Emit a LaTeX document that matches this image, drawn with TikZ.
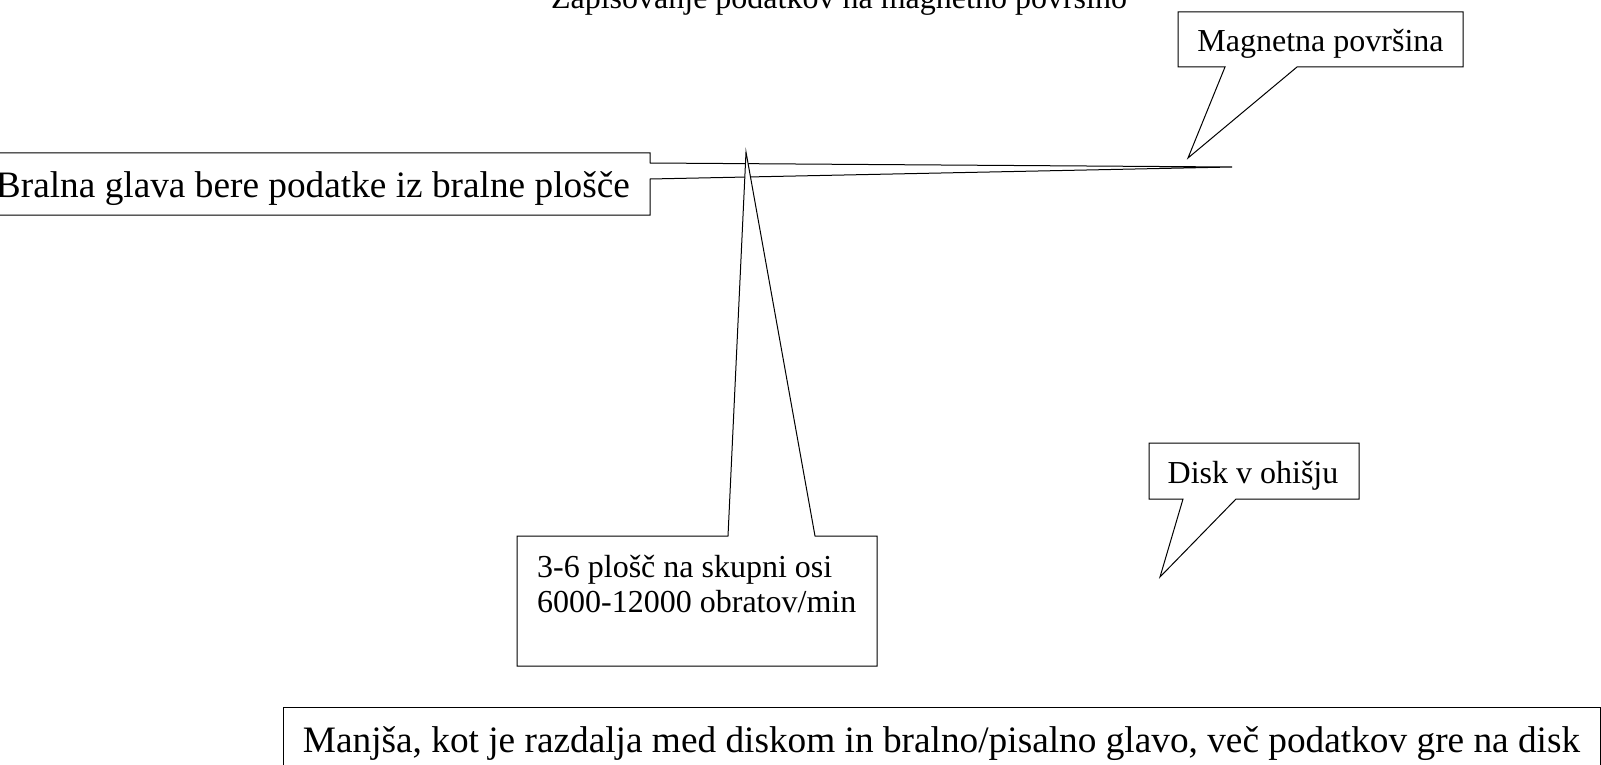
\documentclass[tikz,border=0pt]{standalone}
\usepackage{fontspec}
\setmainfont{Liberation Serif}
\begin{document}
\begin{tikzpicture}[x=1pt,y=-1pt,
  callout/.style={draw=black,line width=1pt,fill=white,line join=miter},
  smalltext/.style={inner sep=0pt,font=\fontsize{32}{35}\selectfont},
  bigtext/.style={inner sep=0pt,font=\fontsize{37.3}{42}\selectfont}]
\useasboundingbox (0,0) rectangle (1601,765);
\begin{scope}
\clip (0,0) rectangle (1601,765);
% title
\node[smalltext,anchor=base] (title) at (839,9) {Zapisovanje podatkov na magnetno površino};
% Magnetna površina callout
\coordinate (mtip) at (1188,158);
\draw[callout] (1178,12) -- (1463,12) -- (1463,67) -- (1297,67) -- (mtip) -- (1225,67) -- (1178,67) -- cycle;
\node[smalltext,anchor=base] (magn) at (1320.5,52) {Magnetna površina};
% Bralna glava callout
\coordinate (btip) at (1232,167);
\draw[callout] (-5,153) -- (650,153) -- (650,163) -- (btip) -- (650,179) -- (650,215) -- (-5,215) -- cycle;
\node[bigtext,anchor=base east] (bralna) at (630,197) {Bralna glava bere podatke iz bralne plošče};
% 3-6 plošč callout
\coordinate (ptip) at (746,152);
\draw[callout] (517,536) -- (728,536) -- (ptip) -- (815,536) -- (877,536) -- (877,666) -- (517,666) -- cycle;
\node[smalltext,anchor=base west] (plosc1) at (537,577) {3-6 plošč na skupni osi};
\node[smalltext,anchor=base west] (plosc2) at (537,612) {6000-12000 obratov/min};
% Disk v ohišju callout
\coordinate (dtip) at (1160,577);
\draw[callout] (1149,443) -- (1359,443) -- (1359,499) -- (1236,499) -- (dtip) -- (1183,499) -- (1149,499) -- cycle;
\node[smalltext,anchor=base] (disk) at (1253,483) {Disk v ohišju};
% bottom box
\draw[callout] (283,707) -- (1600,707) -- (1600,775) -- (283,775) -- cycle;
\node[bigtext,anchor=base] (manjsa) at (941.5,752) {Manjša, kot je razdalja med diskom in bralno/pisalno glavo, več podatkov gre na disk};
\end{scope}
\end{tikzpicture}
\end{document}
